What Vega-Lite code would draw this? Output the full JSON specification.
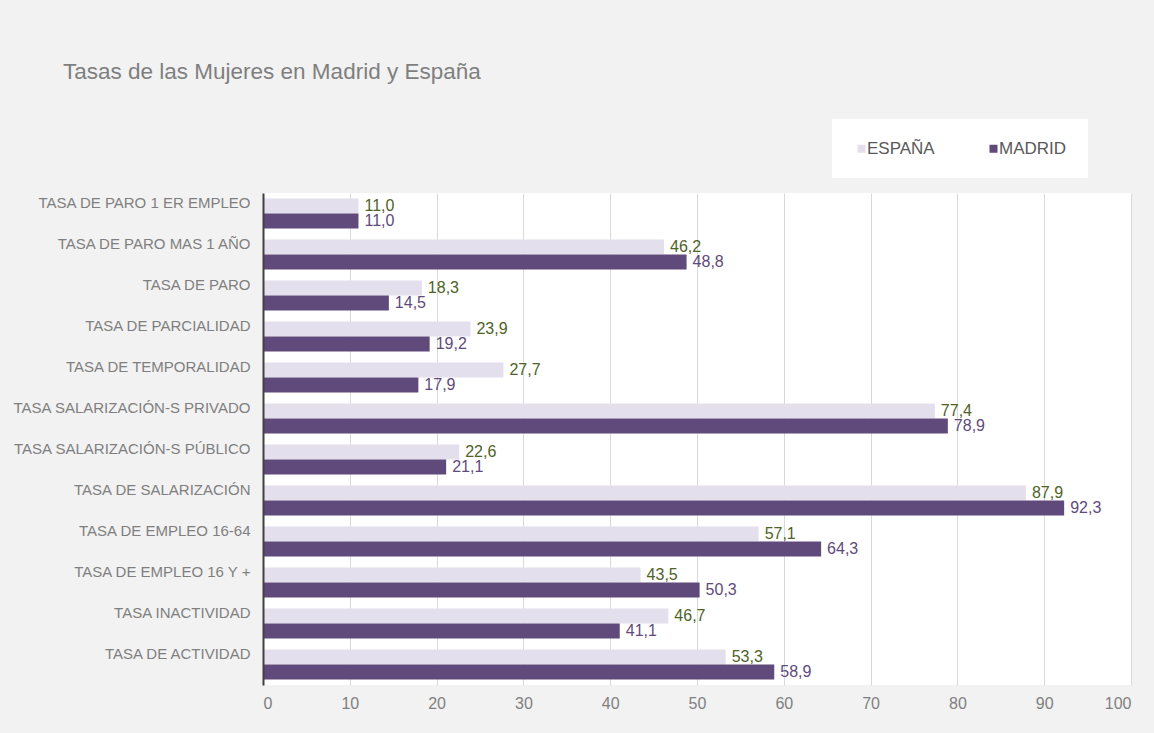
{
  "$schema": "https://vega.github.io/schema/vega-lite/v6.json",
  "autosize": {"type": "none"},
  "width": 868,
  "height": 492,
  "padding": {"left": 263, "top": 193, "right": 23, "bottom": 48},
  "background": "#f2f2f2",
  "title": {
    "text": "Tasas de las Mujeres en Madrid y España",
    "anchor": "start",
    "frame": "group",
    "dx": -200,
    "offset": 18,
    "baseline": "alphabetic",
    "font": "Liberation Sans",
    "fontSize": 22.5,
    "fontWeight": "normal",
    "color": "#7f7f7f"
  },
  "config": {
    "locale": {"number": {"decimal": ",", "thousands": ".", "grouping": [3], "currency": ["", " €"]}},
    "view": {"fill": "#ffffff", "stroke": null},
    "font": "Liberation Sans"
  },
  "data": {
    "values": [
      {"tasa": "TASA DE PARO 1 ER EMPLEO", "serie": "ESPAÑA", "valor": 11.0},
      {"tasa": "TASA DE PARO 1 ER EMPLEO", "serie": "MADRID", "valor": 11.0},
      {"tasa": "TASA DE PARO MAS 1 AÑO", "serie": "ESPAÑA", "valor": 46.2},
      {"tasa": "TASA DE PARO MAS 1 AÑO", "serie": "MADRID", "valor": 48.8},
      {"tasa": "TASA DE PARO", "serie": "ESPAÑA", "valor": 18.3},
      {"tasa": "TASA DE PARO", "serie": "MADRID", "valor": 14.5},
      {"tasa": "TASA DE PARCIALIDAD", "serie": "ESPAÑA", "valor": 23.9},
      {"tasa": "TASA DE PARCIALIDAD", "serie": "MADRID", "valor": 19.2},
      {"tasa": "TASA DE TEMPORALIDAD", "serie": "ESPAÑA", "valor": 27.7},
      {"tasa": "TASA DE TEMPORALIDAD", "serie": "MADRID", "valor": 17.9},
      {"tasa": "TASA SALARIZACIÓN-S  PRIVADO", "serie": "ESPAÑA", "valor": 77.4},
      {"tasa": "TASA SALARIZACIÓN-S  PRIVADO", "serie": "MADRID", "valor": 78.9},
      {"tasa": "TASA SALARIZACIÓN-S  PÚBLICO", "serie": "ESPAÑA", "valor": 22.6},
      {"tasa": "TASA SALARIZACIÓN-S  PÚBLICO", "serie": "MADRID", "valor": 21.1},
      {"tasa": "TASA DE SALARIZACIÓN", "serie": "ESPAÑA", "valor": 87.9},
      {"tasa": "TASA DE SALARIZACIÓN", "serie": "MADRID", "valor": 92.3},
      {"tasa": "TASA DE EMPLEO 16-64", "serie": "ESPAÑA", "valor": 57.1},
      {"tasa": "TASA DE EMPLEO 16-64", "serie": "MADRID", "valor": 64.3},
      {"tasa": "TASA DE EMPLEO 16 Y +", "serie": "ESPAÑA", "valor": 43.5},
      {"tasa": "TASA DE EMPLEO 16 Y +", "serie": "MADRID", "valor": 50.3},
      {"tasa": "TASA INACTIVIDAD", "serie": "ESPAÑA", "valor": 46.7},
      {"tasa": "TASA INACTIVIDAD", "serie": "MADRID", "valor": 41.1},
      {"tasa": "TASA DE ACTIVIDAD", "serie": "ESPAÑA", "valor": 53.3},
      {"tasa": "TASA DE ACTIVIDAD", "serie": "MADRID", "valor": 58.9}
    ]
  },
  "encoding": {
    "y": {
      "field": "tasa",
      "type": "nominal",
      "sort": null,
      "title": null,
      "scale": {"paddingInner": 0.27, "paddingOuter": 0.135},
      "axis": {
        "zindex": 2,
        "domainColor": "#404040",
        "domainWidth": 2,
        "ticks": false,
        "grid": false,
        "labelPadding": 13,
        "labelOffset": -11,
        "labelFontSize": 15,
        "labelColor": "#7f7f7f",
        "labelLimit": 300
      }
    },
    "x": {
      "field": "valor",
      "type": "quantitative",
      "title": null,
      "scale": {"domain": [0, 100], "nice": false},
      "axis": {
        "values": [0, 10, 20, 30, 40, 50, 60, 70, 80, 90, 100],
        "domain": false,
        "ticks": false,
        "gridColor": "#d9d9d9",
        "gridWidth": 1,
        "labelPadding": 10,
        "labelFontSize": 16,
        "labelColor": "#808080",
        "format": "d"
      }
    },
    "yOffset": {"field": "serie", "type": "nominal", "sort": ["ESPAÑA", "MADRID"], "scale": {"paddingInner": 0}}
  },
  "layer": [
    {
      "mark": {"type": "bar"},
      "encoding": {
        "color": {
          "field": "serie",
          "type": "nominal",
          "scale": {"domain": ["ESPAÑA", "MADRID"], "range": ["#e4dfec", "#604a7b"]},
          "legend": {
            "title": null,
            "orient": "none",
            "direction": "horizontal",
            "legendX": 569,
            "legendY": -74,
            "fillColor": "#ffffff",
            "padding": 21,
            "symbolType": "square",
            "symbolSize": 64,
            "symbolStrokeWidth": 0,
            "labelFontSize": 17,
            "labelColor": "#595959",
            "labelOffset": -3,
            "columnPadding": 50
          }
        }
      }
    },
    {
      "mark": {"type": "text", "align": "left", "baseline": "middle", "dx": 6, "fontSize": 16},
      "encoding": {
        "text": {"field": "valor", "type": "quantitative", "format": ".1f"},
        "color": {
          "field": "serie",
          "type": "nominal",
          "scale": {"domain": ["ESPAÑA", "MADRID"], "range": ["#4f6228", "#604a7b"]},
          "legend": null
        }
      }
    }
  ],
  "resolve": {"scale": {"color": "independent"}}
}
